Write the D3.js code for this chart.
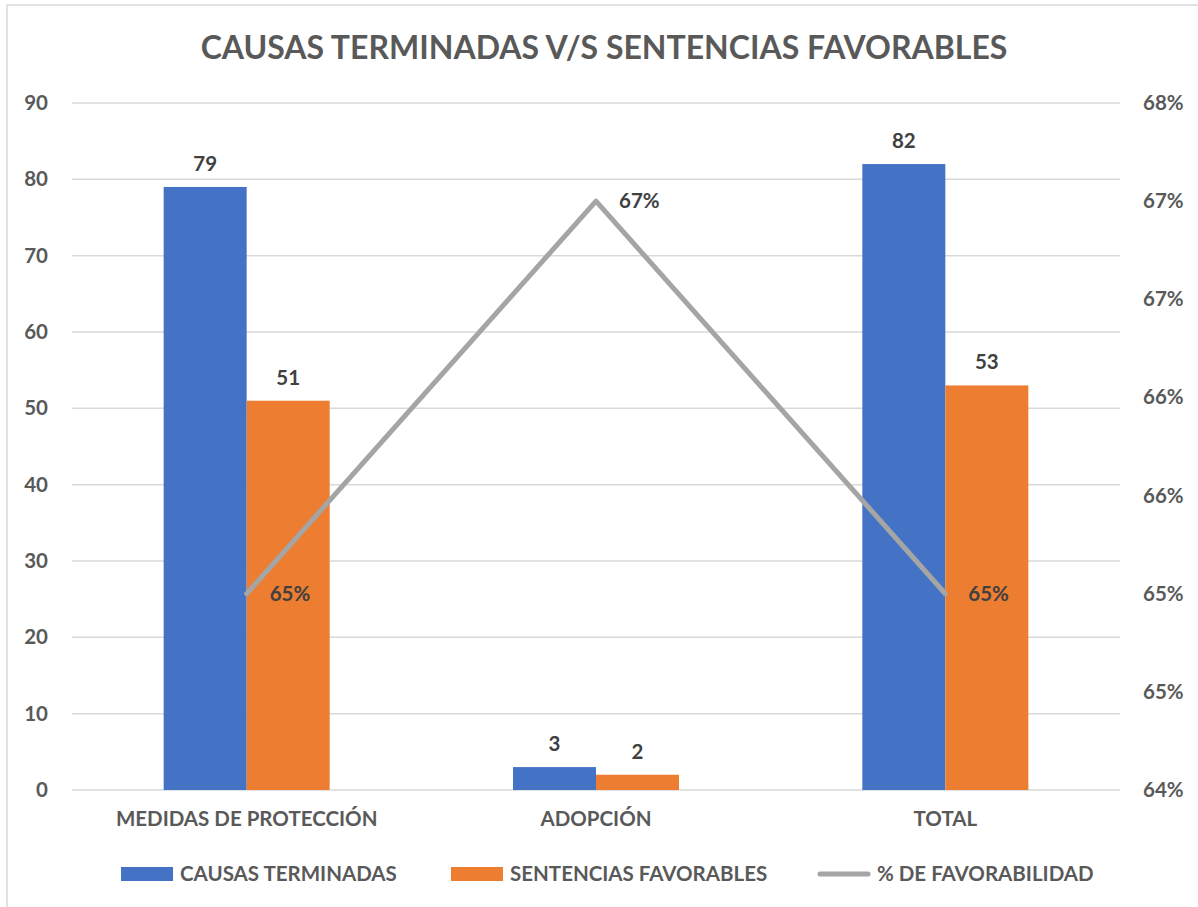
<!DOCTYPE html>
<html lang="es">
<head>
<meta charset="UTF-8" />
<title>Causas terminadas v/s sentencias favorables</title>
<script src="https://cdn.jsdelivr.net/npm/d3@7"></script>
<style>
  html, body { margin: 0; padding: 0; background: #fff; }
  svg { display: block; }
  text { font-family: Lato, "Open Sans", sans-serif; font-weight: bold; }
</style>
</head>
<body>
<script>
// ------ Data ------
const categories = ["MEDIDAS DE PROTECCIÓN", "ADOPCIÓN", "TOTAL"];
const causasTerminadas = [79, 3, 82];
const sentenciasFavorables = [51, 2, 53];
const favorabilidad = [0.65, 0.67, 0.65];
const favorabilidadLabels = ["65%", "67%", "65%"];
const leftTicks = [0, 10, 20, 30, 40, 50, 60, 70, 80, 90];
const rightTicks = [0.64, 0.645, 0.65, 0.655, 0.66, 0.665, 0.67, 0.675];
const rightTickLabels = ["64%", "65%", "65%", "66%", "66%", "67%", "67%", "68%"];
const seriesNames = ["CAUSAS TERMINADAS", "SENTENCIAS FAVORABLES", "% DE FAVORABILIDAD"];

const width = 1198, height = 907;
const plot = { left: 72, right: 1120, top: 103, bottom: 790 };
const blue = "#4472C4", orange = "#ED7D31", gray = "#A5A5A5";
const axisColor = "#595959", labelColor = "#404040";
const fs = 20.5;

const svg = d3.select("body").append("svg")
  .attr("width", width).attr("height", height);

// chart frame
svg.append("rect")
  .attr("x", 7).attr("y", 5).attr("width", 1200).attr("height", 920)
  .attr("fill", "#fff").attr("stroke", "#d9d9d9").attr("stroke-width", 1.5);

// title
svg.append("text")
  .attr("x", 604).attr("y", 59)
  .attr("text-anchor", "middle")
  .attr("font-size", 32).attr("fill", axisColor)
  .text("CAUSAS TERMINADAS V/S SENTENCIAS FAVORABLES");

// ------ Scales ------
const x = d3.scaleBand().domain(categories).range([plot.left, plot.right]);
const yLeft = d3.scaleLinear().domain([0, 90]).range([plot.bottom, plot.top]);
const yRight = d3.scaleLinear().domain([0.64, 0.675]).range([plot.bottom, plot.top]);
const barW = 83;

// gridlines
svg.append("g").selectAll("line").data(leftTicks).join("line")
  .attr("x1", plot.left).attr("x2", plot.right)
  .attr("y1", d => yLeft(d)).attr("y2", d => yLeft(d))
  .attr("stroke", "#d9d9d9").attr("stroke-width", 1.5);

// left axis
const leftAxis = svg.append("g")
  .attr("transform", `translate(${plot.left - 24},0)`)
  .call(d3.axisLeft(yLeft).tickValues(leftTicks).tickSize(0).tickPadding(0));
leftAxis.select(".domain").remove();
leftAxis.selectAll("text")
  .attr("font-size", fs).attr("fill", axisColor).attr("font-family", null);

// right axis
const rightAxis = svg.append("g")
  .attr("transform", `translate(${plot.right + 23},0)`)
  .call(d3.axisRight(yRight).tickValues(rightTicks).tickSize(0).tickPadding(0)
    .tickFormat((d, i) => rightTickLabels[i]));
rightAxis.select(".domain").remove();
rightAxis.selectAll("text")
  .attr("font-size", fs).attr("fill", axisColor).attr("font-family", null);

// category axis
const catAxis = svg.append("g")
  .attr("transform", `translate(0,${plot.bottom + 21})`)
  .call(d3.axisBottom(x).tickSize(0).tickPadding(0));
catAxis.select(".domain").remove();
catAxis.selectAll("text")
  .attr("font-size", fs).attr("fill", axisColor).attr("font-family", null);

// ------ Bars ------
const bars = svg.append("g");
categories.forEach((c, i) => {
  const cx = x(c) + x.bandwidth() / 2;
  [[causasTerminadas[i], blue, cx - barW], [sentenciasFavorables[i], orange, cx]].forEach(([v, col, bx]) => {
    bars.append("rect")
      .attr("x", bx).attr("y", yLeft(v))
      .attr("width", barW).attr("height", plot.bottom - yLeft(v))
      .attr("fill", col);
    bars.append("text")
      .attr("x", bx + barW / 2).attr("y", yLeft(v) - 16)
      .attr("text-anchor", "middle")
      .attr("font-size", fs).attr("fill", labelColor)
      .text(v);
  });
});

// ------ Line ------
const line = d3.line()
  .x((d, i) => x(categories[i]) + x.bandwidth() / 2)
  .y(d => yRight(d));
svg.append("path")
  .datum(favorabilidad)
  .attr("d", line)
  .attr("fill", "none").attr("stroke", gray)
  .attr("stroke-width", 5).attr("stroke-linejoin", "round").attr("stroke-linecap", "round");

svg.append("g").selectAll("text").data(favorabilidad).join("text")
  .attr("x", (d, i) => x(categories[i]) + x.bandwidth() / 2 + 23)
  .attr("y", d => yRight(d))
  .attr("dy", "0.35em")
  .attr("font-size", fs).attr("fill", labelColor)
  .text((d, i) => favorabilidadLabels[i]);

// ------ Legend ------
const legend = svg.append("g");
const legendItems = [
  { name: seriesNames[0], color: blue, x: 121, type: "rect" },
  { name: seriesNames[1], color: orange, x: 451, type: "rect" },
  { name: seriesNames[2], color: gray, x: 818, type: "line" }
];
legendItems.forEach(it => {
  if (it.type === "rect") {
    legend.append("rect").attr("x", it.x).attr("y", 867)
      .attr("width", 52).attr("height", 14).attr("fill", it.color);
  } else {
    legend.append("line").attr("x1", it.x + 2).attr("x2", it.x + 50)
      .attr("y1", 874).attr("y2", 874)
      .attr("stroke", it.color).attr("stroke-width", 5).attr("stroke-linecap", "round");
  }
  legend.append("text")
    .attr("x", it.x + 59).attr("y", 874).attr("dy", "0.35em")
    .attr("font-size", fs).attr("fill", axisColor)
    .text(it.name);
});
</script>
</body>
</html>
